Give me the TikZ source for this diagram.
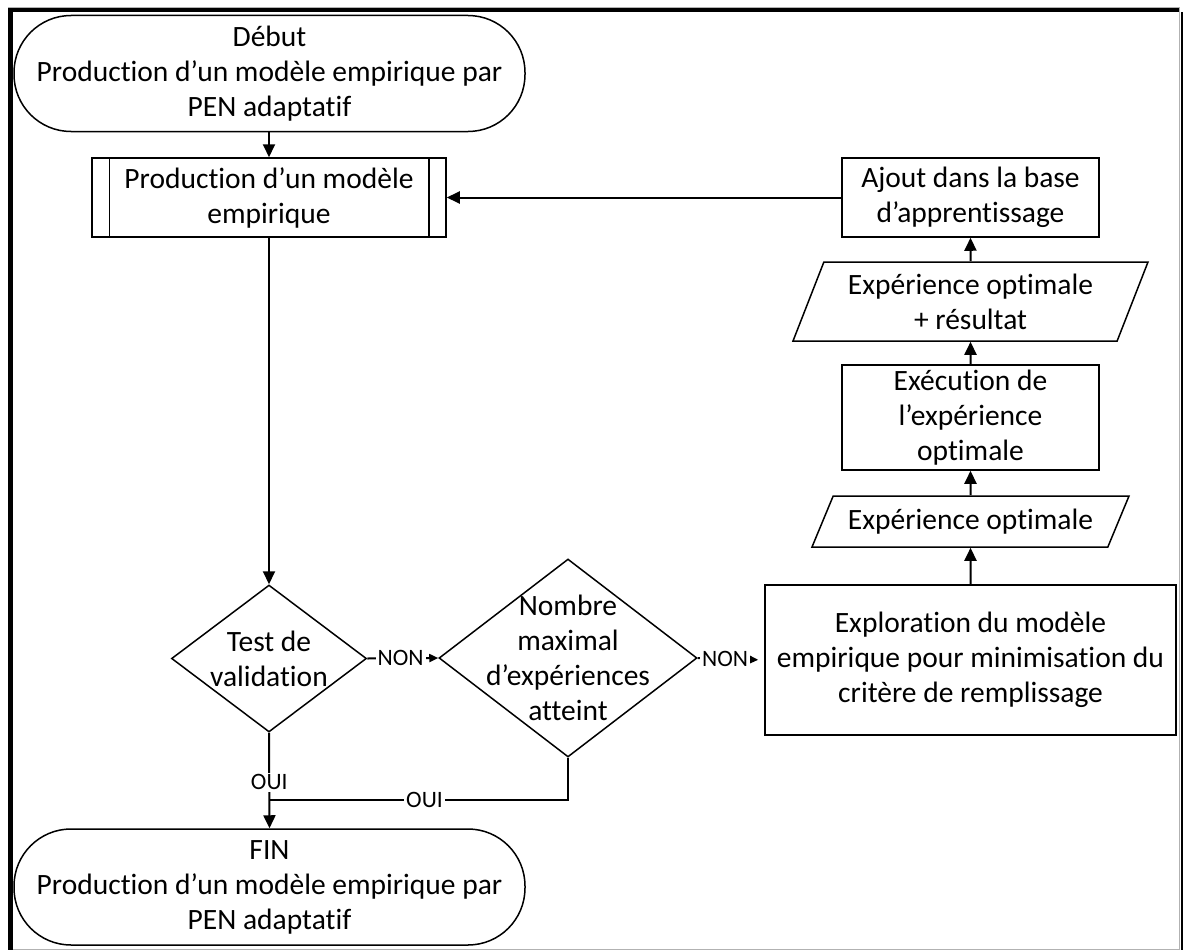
\documentclass[tikz,border=0pt]{standalone}
\usepackage{fontspec}
\setmainfont{Carlito}[Ligatures=NoCommon, Contextuals=NoAlternate]
\usetikzlibrary{arrows.meta,shapes.geometric}
\begin{document}
\begin{tikzpicture}[x=1pt,y=-1pt,
  txt/.style={align=center, font=\fontsize{29.5}{35}\selectfont},
  base/.style={txt, draw=black, line width=1.5pt, inner sep=0pt, fill=white},
  term/.style={base, rectangle, rounded corners=57pt, minimum width=511pt, minimum height=116pt},
  procbox/.style={base, rectangle},
  iobox/.style={base, trapezium, trapezium stretches body},
  decision/.style={base, diamond},
  conn/.style={line width=2pt, -{Triangle[length=13pt,width=12pt]}},
  nonconn/.style={line width=2pt, -{Triangle[length=9pt,width=8pt]}},
  plain/.style={line width=2pt},
  lbl/.style={fill=white, inner sep=2pt, font=\fontsize{23.5}{28}\selectfont}
]
\useasboundingbox (0,0) rectangle (1183,950);
\fill[white] (0,0) rectangle (1183,950);
% frame
\draw[gray!60, line width=0.8pt] (8,7) -- (1179,7) -- (1179,949) -- (8,949);
\fill[black] (8,8) rectangle (13,950);
\fill[black] (8,8) rectangle (1179,12);
\fill[black] (1180.5,12) rectangle (1183,950);

% nodes
\node[term] (start) at (269.5,73.5) {Début\\Production d’un modèle empirique par\\PEN adaptatif};
\node[procbox, minimum width=354pt, minimum height=79pt] (sub) at (269,197.5) {Production d’un modèle\\empirique};
\draw[line width=1.5pt] ([xshift=18pt]sub.north west) -- ([xshift=18pt]sub.south west);
\draw[line width=1.5pt] ([xshift=-18pt]sub.north east) -- ([xshift=-18pt]sub.south east);
\node[procbox, minimum width=257pt, minimum height=79pt] (ajout) at (970.5,197.5) {Ajout dans la base\\d’apprentissage};
\node[iobox, trapezium left angle=61, trapezium right angle=119, minimum width=355pt, minimum height=79pt] (para1) at (970.5,301.5) {Expérience optimale\\+ résultat};
\node[procbox, minimum width=257pt, minimum height=105pt] (exec) at (970.5,417.5) {Exécution de\\l’expérience\\optimale};
\node[iobox, trapezium left angle=50, trapezium right angle=130, minimum width=317pt, minimum height=51pt] (para2) at (970.5,521.5) {Expérience optimale};
\node[procbox, minimum width=411pt, minimum height=150pt] (explo) at (970.5,660) {Exploration du modèle\\empirique pour minimisation du\\critère de remplissage};
\node[decision, minimum width=195pt, minimum height=147pt, label={[txt]center:{Test de\\validation}}] (test) at (269,658.5) {};
\node[decision, minimum width=258pt, minimum height=198pt, label={[txt]center:{Nombre\\maximal\\d’expériences\\atteint}}] (nombre) at (568,658) {};
\node[term] (fin) at (269.5,887) {FIN\\Production d’un modèle empirique par\\PEN adaptatif};
\coordinate (join) at (269,800);

% connectors
\draw[conn] (start.south -| sub.north) -- (sub.north);
\draw[conn] (sub.south) -- (test.north);
\draw[nonconn] (test.east) -- node[lbl, pos=0.47]{NON} (nombre.west);
\draw[nonconn, shorten >=6pt] (nombre.east) -- node[lbl, pos=0.41]{NON} (explo.west);
\draw[conn] (explo.north) -- (para2.south);
\draw[conn] (para2.north) -- (exec.south);
\draw[conn] (exec.north) -- (para1.south);
\draw[conn] (para1.north) -- (ajout.south);
\draw[conn] (ajout.west) -- (sub.east);
\draw[conn] (test.south) -- node[lbl, pos=0.52]{OUI} (fin.north);
\draw[plain] (nombre.south) |- node[lbl, pos=0.74]{OUI} (join);
\end{tikzpicture}
\end{document}
